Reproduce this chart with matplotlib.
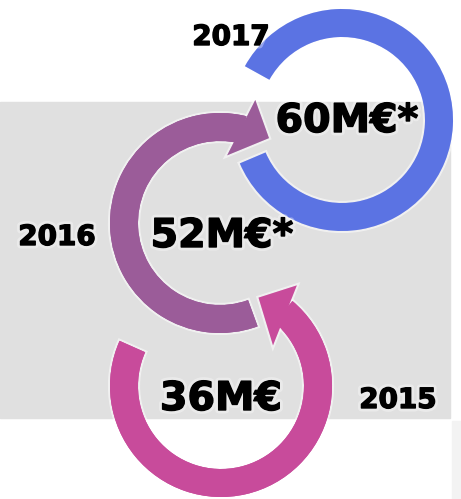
import numpy as np
import matplotlib
matplotlib.use('Agg')
import matplotlib.pyplot as plt
from matplotlib.patches import Wedge, Polygon, Rectangle
import matplotlib.patheffects as pe

# data
years = ['2015', '2016', '2017']
amounts = ['36M€', '52M€*', '60M€*']
colors = ['#c84b9b', '#9b5c99', '#5b73e3']

W, H = 461, 499
fig = plt.figure(figsize=(W / 100, H / 100), dpi=100)
ax = fig.add_axes([0, 0, 1, 1])
ax.set_xlim(0, W)
ax.set_ylim(0, H)
ax.axis('off')


def up(y):
    # picture rows -> axes y
    return H - y


# background panels
ax.add_patch(Rectangle((0, up(418)), 450, 316, color='#e0e0e0', zorder=0))
ax.add_patch(Rectangle((452, 0), 9, up(421), color='#f3f3f3', zorder=0))

glow = [pe.Stroke(linewidth=3, foreground='white', alpha=0.55), pe.Normal()]


def polar(c, ang, r):
    a = np.radians(ang)
    return (c[0] + r * np.cos(a), c[1] + r * np.sin(a))


def ring(c, r_out, width, t1, t2, color, head=None, z=1):
    w = Wedge(c, r_out, t1, t2, width=width, facecolor=color, edgecolor='none', zorder=z)
    w.set_path_effects(glow)
    ax.add_patch(w)
    if head is not None:
        pts = [polar(c, a, r) for a, r in head]
        p = Polygon(pts, closed=True, facecolor=color, edgecolor='none', zorder=z)
        p.set_path_effects(glow)
        ax.add_patch(p)
        # re-draw shaft over the head edge glow
        w2 = Wedge(c, r_out, t1, t2, width=width, facecolor=color, edgecolor='none', zorder=z)
        ax.add_patch(w2)


# 2017 ring (blue), no arrowhead
c17 = (342, up(120))
ring(c17, 111, 28, -157, 151, colors[2], z=1)

# 2016 ring (purple), arrow at top right
c16 = (220, up(223))
ring(c16, 110, 28, 76, 290, colors[1],
     head=[(60, 98), (74, 128), (84, 68)], z=2)

# 2015 ring (pink), arrow at top right
c15 = (221, up(386))
ring(c15, 111, 28, 156, 410, colors[0],
     head=[(67, 96), (53, 126), (38, 66)], z=3)

halo = [pe.Stroke(linewidth=5, foreground='white', alpha=0.35),
        pe.Stroke(linewidth=1.0, foreground='black'), pe.Normal()]
txt = dict(fontweight='bold', color='black', family='DejaVu Sans', zorder=5,
           ha='center', va='baseline', path_effects=halo)

# amounts
ax.text(221, up(410), amounts[0], fontsize=28.5, **txt)
ax.text(222, up(247), amounts[1], fontsize=28.5, **txt)
ax.text(347, up(132), amounts[2], fontsize=28.5, **txt)

# years
ax.text(398, up(408), years[0], fontsize=20, **txt)
ax.text(57, up(245), years[1], fontsize=20, **txt)
ax.text(231, up(45), years[2], fontsize=20, **txt)

fig.savefig('out.png', dpi=100)
